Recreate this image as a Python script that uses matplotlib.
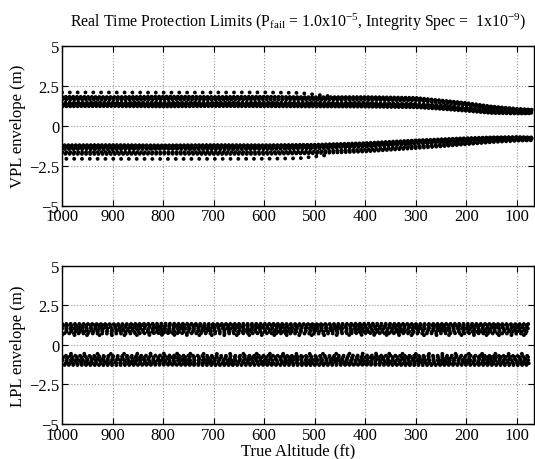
import matplotlib
matplotlib.use('Agg')
import matplotlib.pyplot as plt

plt.rcParams['font.family'] = 'Liberation Serif'
plt.rcParams['mathtext.fontset'] = 'custom'
plt.rcParams['mathtext.rm'] = 'Liberation Serif'
plt.rcParams['mathtext.it'] = 'Liberation Serif:italic'

alt = [1000, 900, 800, 700, 600, 500, 400, 300, 250, 200, 150, 100, 70]

# VPL envelope, upper band (m)
vpl_up = [
    [1.81, 1.79, 1.82, 1.80, 1.81, 1.78, 1.79, 1.74, 1.58, 1.42, 1.20, 1.06, 1.00],
    [1.72, 1.74, 1.71, 1.73, 1.72, 1.71, 1.71, 1.66, 1.51, 1.36, 1.15, 1.02, 0.97],
    [1.64, 1.63, 1.65, 1.63, 1.64, 1.63, 1.62, 1.58, 1.44, 1.29, 1.09, 0.98, 0.94],
    [1.45, 1.44, 1.46, 1.44, 1.45, 1.44, 1.43, 1.38, 1.27, 1.13, 0.96, 0.89, 0.87],
    [1.37, 1.38, 1.36, 1.38, 1.37, 1.36, 1.35, 1.30, 1.20, 1.06, 0.90, 0.84, 0.83],
    [1.29, 1.28, 1.30, 1.28, 1.29, 1.28, 1.27, 1.22, 1.12, 0.99, 0.84, 0.80, 0.80],
    [1.21, 1.22, 1.20, 1.22, 1.21, 1.20, 1.19, 1.15, 1.05, 0.93, 0.79, 0.76, 0.77],
]
# VPL envelope, lower band (m)
vpl_lo = [
    [-1.22, -1.21, -1.23, -1.21, -1.22, -1.19, -1.09, -0.92, -0.85, -0.78, -0.73, -0.71, -0.73],
    [-1.30, -1.31, -1.29, -1.31, -1.30, -1.27, -1.16, -0.99, -0.91, -0.84, -0.78, -0.74, -0.76],
    [-1.38, -1.37, -1.39, -1.37, -1.38, -1.35, -1.24, -1.06, -0.98, -0.90, -0.83, -0.78, -0.79],
    [-1.46, -1.47, -1.45, -1.47, -1.46, -1.43, -1.32, -1.13, -1.05, -0.96, -0.88, -0.82, -0.82],
    [-1.66, -1.65, -1.67, -1.65, -1.66, -1.62, -1.50, -1.30, -1.20, -1.08, -0.97, -0.89, -0.87],
    [-1.76, -1.77, -1.75, -1.77, -1.76, -1.72, -1.61, -1.40, -1.29, -1.16, -1.03, -0.94, -0.91],
]
# sparse outer tracks of the VPL bands
vpl_outer_alt = [1000, 800, 600, 530, 470]
vpl_outer_up = [2.08, 2.07, 2.08, 2.05, 1.84]
vpl_outer_lo = [-2.07, -2.08, -2.07, -2.04, -1.82]

# LPL envelope (m), flat bands
lpl_alt = [1000, 900, 800, 700, 600, 500, 400, 300, 200, 100, 75]
lpl_up = [
    [1.33, 1.31, 1.34, 1.32, 1.33, 1.31, 1.34, 1.32, 1.33, 1.31, 1.32],
    [1.23, 1.25, 1.22, 1.24, 1.23, 1.25, 1.22, 1.24, 1.23, 1.25, 1.24],
    [1.13, 1.11, 1.14, 1.12, 1.13, 1.11, 1.14, 1.12, 1.13, 1.11, 1.12],
    [1.03, 1.05, 1.02, 1.04, 1.03, 1.05, 1.02, 1.04, 1.03, 1.05, 1.04],
    [0.93, 0.91, 0.94, 0.92, 0.93, 0.91, 0.94, 0.92, 0.93, 0.91, 0.92],
    [0.83, 0.85, 0.82, 0.84, 0.83, 0.85, 0.82, 0.84, 0.83, 0.85, 0.84],
    [0.73, 0.71, 0.74, 0.72, 0.73, 0.71, 0.74, 0.72, 0.73, 0.71, 0.72],
]
lpl_up_sparse = [0.62, 0.61, 0.63, 0.61, 0.62, 0.61, 0.63, 0.61, 0.62, 0.61, 0.62]
lpl_lo = [
    [-0.68, -0.70, -0.67, -0.69, -0.68, -0.70, -0.67, -0.69, -0.68, -0.70, -0.69],
    [-0.78, -0.76, -0.79, -0.77, -0.78, -0.76, -0.79, -0.77, -0.78, -0.76, -0.77],
    [-0.88, -0.90, -0.87, -0.89, -0.88, -0.90, -0.87, -0.89, -0.88, -0.90, -0.89],
    [-0.98, -0.96, -0.99, -0.97, -0.98, -0.96, -0.99, -0.97, -0.98, -0.96, -0.97],
    [-1.08, -1.10, -1.07, -1.09, -1.08, -1.10, -1.07, -1.09, -1.08, -1.10, -1.09],
    [-1.18, -1.16, -1.19, -1.17, -1.18, -1.16, -1.19, -1.17, -1.18, -1.16, -1.17],
    [-1.27, -1.28, -1.26, -1.28, -1.27, -1.28, -1.26, -1.28, -1.27, -1.28, -1.27],
]
lpl_lo_sparse = [-0.56, -0.57, -0.55, -0.57, -0.56, -0.57, -0.55, -0.57, -0.56, -0.57, -0.56]

xticks = [1000, 900, 800, 700, 600, 500, 400, 300, 200, 100]
yticks = [-5, -2.5, 0, 2.5, 5]

vpl_gaps = [0.95, 1.05, 1.0, 1.1, 0.9, 1.05, 0.95]
lpl_gaps = [1.1, 1.0, 1.25, 1.05, 1.3, 1.15, 1.2]


def dots(ax, x, y, gap=1.4, off=0.0, lw=2.8):
    ax.plot(x, y, color='k', lw=lw, linestyle=(off, (0.01, gap)),
            dash_capstyle='round')


def style(ax, label):
    ax.set_xlim(1000, 66)
    ax.set_ylim(-5, 5)
    ax.set_xticks(xticks)
    ax.set_yticks(yticks)
    ax.set_yticklabels(['\u22125', '\u22122.5', '0', '2.5', '5'])
    ax.grid(True, linestyle=':', color='0.6', lw=0.8)
    ax.tick_params(direction='in', top=True, right=True, labelsize=12,
                   length=4, width=0.8, pad=2)
    for s in ax.spines.values():
        s.set_linewidth(1.0)
    ax.set_ylabel(label, fontsize=12, labelpad=2)


fig = plt.figure(figsize=(5.35, 4.6), dpi=100)
ax1 = fig.add_axes([0.1159, 0.5507, 0.8822, 0.3478])
ax2 = fig.add_axes([0.1159, 0.0761, 0.8822, 0.3441])

for i, row in enumerate(vpl_up):
    dots(ax1, alt, row, gap=vpl_gaps[i], off=0.45 * i)
for i, row in enumerate(vpl_lo):
    dots(ax1, alt, row, gap=vpl_gaps[-1 - i], off=0.4 * i + 0.3)
dots(ax1, vpl_outer_alt, vpl_outer_up, gap=2.0)
dots(ax1, vpl_outer_alt, vpl_outer_lo, gap=2.0, off=0.9)

for i, row in enumerate(lpl_up):
    dots(ax2, lpl_alt, row, gap=lpl_gaps[i], off=0.7 * i)
for i, row in enumerate(lpl_lo):
    dots(ax2, lpl_alt, row, gap=lpl_gaps[-1 - i], off=0.6 * i + 0.2)
dots(ax2, lpl_alt, lpl_up_sparse, gap=3.2)
dots(ax2, lpl_alt, lpl_lo_sparse, gap=3.4, off=1.1)

style(ax1, 'VPL envelope (m)')
style(ax2, 'LPL envelope (m)')
ax2.set_xlabel('True Altitude (ft)', fontsize=12, labelpad=0)

ax1.set_title(r'Real Time Protection Limits (P$_{\mathrm{fail}}$ = 1.0x10$^{-5}$, '
              r'Integrity Spec =  1x10$^{-9}$)', fontsize=11.4, pad=14)

fig.savefig('out.png', dpi=100)
